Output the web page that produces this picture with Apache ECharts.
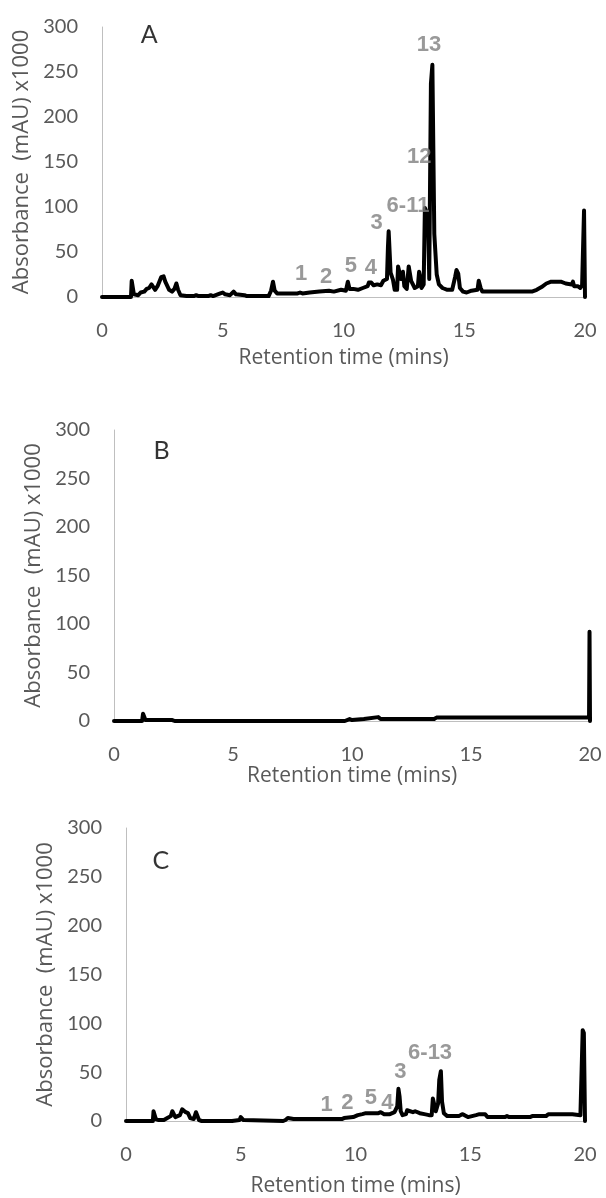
<!DOCTYPE html>
<html>
<head>
<meta charset="utf-8">
<script src="https://cdn.jsdelivr.net/npm/echarts@6/dist/echarts.min.js"></script>
<style>
  html, body { margin: 0; padding: 0; background: #fff; }
  #chart { width: 606px; height: 1198px; }
</style>
</head>
<body>
<div id="chart"></div>
<script>
// chromatogram A (sample)
const timeA = [0, 1.2, 1.23, 1.28, 1.32, 1.5, 1.6, 1.75, 1.85, 1.95, 2.05, 2.12, 2.2, 2.3, 2.45, 2.55, 2.62, 2.7, 2.78, 2.9,
  3.0, 3.08, 3.15, 3.25, 3.5, 3.8, 3.9, 4.0, 4.4, 4.5, 4.6, 4.9, 5.0, 5.1, 5.3, 5.45, 5.55, 5.9, 6.0, 6.9,
  7.0, 7.08, 7.15, 7.25, 8.1, 8.2, 8.3, 8.6, 9.0, 9.4, 9.6, 9.9, 10.1, 10.18, 10.25, 10.4, 10.6, 10.8, 11.0, 11.05,
  11.15, 11.25, 11.4, 11.55, 11.65, 11.8, 11.84, 11.87, 11.92, 11.95, 12.05, 12.12, 12.22, 12.26, 12.33, 12.38, 12.46, 12.52, 12.62, 12.7,
  12.76, 12.8, 12.88, 12.95, 13.08, 13.13, 13.18, 13.23, 13.32, 13.37, 13.42, 13.5, 13.55, 13.62, 13.68, 13.73, 13.76, 13.82, 13.86, 13.95,
  14.1, 14.3, 14.5, 14.62, 14.68, 14.75, 14.82, 14.95, 15.1, 15.3, 15.55, 15.6, 15.68, 15.75, 17.8, 18.0, 18.2, 18.4, 18.6, 19.0,
  19.2, 19.45, 19.5, 19.55, 19.7, 19.8, 19.88, 19.94, 19.96, 19.98, 20];
const absA = [0, 0, 18, 18, 3, 2, 5, 6, 9, 10, 14, 16, 8, 12, 22, 23, 17, 19, 8, 6,
  9, 15, 8, 2, 1, 1, 2, 1, 1, 2, 1, 4, 5, 3, 2, 6, 3, 2, 1, 1,
  7, 17, 7, 4, 4, 5, 4, 5, 6, 7, 6, 8, 7, 17, 9, 9, 8, 10, 12, 16,
  16, 13, 14, 13, 18, 20, 55, 73, 73, 27, 19, 8, 8, 34, 33, 20, 28, 12, 9, 34,
  33, 18, 16, 10, 12, 28, 22, 10, 14, 99, 97, 90, 20, 237, 258, 258, 70, 68, 25, 14,
  10, 8, 8, 22, 30, 26, 10, 6, 5, 7, 8, 18, 10, 6, 6, 8, 11, 15, 17, 17,
  15, 14, 17, 12, 12, 10, 13, 13, 96, 96, 0];

// chromatogram B (blank)
const timeB = [0, 1.18, 1.22, 1.27, 1.32, 1.6, 1.65, 1.72, 2.0, 2.07, 2.15, 2.45, 2.5, 2.55, 9.7, 9.75, 9.9, 10.0, 10.5, 10.55,
  11.1, 11.2, 12.4, 12.48, 12.55, 13.45, 13.55, 19.96, 19.98, 20];
const absB = [0, 0, 7.5, 7, 1, 1, 3, 1, 1, 3, 1, 1, 2, 0, 0, 1.5, 2, 1, 2, 4,
  4, 2, 2, 3, 2, 2, 3.5, 3.5, 92, 0];

// chromatogram C
const timeC = [0, 1.17, 1.2, 1.25, 1.3, 1.4, 1.65, 1.8, 1.95, 2.02, 2.08, 2.15, 2.25, 2.35, 2.45, 2.52, 2.6, 2.7, 2.8, 2.95,
  3.05, 3.12, 3.18, 3.3, 4.5, 4.55, 4.62, 4.95, 5.0, 5.06, 5.12, 5.2, 6.85, 6.95, 7.05, 7.3, 9.4, 9.5, 9.9, 10.1,
  10.3, 10.45, 11.0, 11.1, 11.25, 11.5, 11.7, 11.82, 11.87, 11.92, 11.97, 12.05, 12.2, 12.25, 12.3, 12.5, 12.6, 12.8, 13.0, 13.2,
  13.32, 13.37, 13.45, 13.5, 13.6, 13.65, 13.72, 13.77, 13.85, 14.0, 14.5, 14.65, 14.75, 14.9, 15.25, 15.4, 15.65, 15.75, 16.5, 16.6,
  16.7, 17.6, 17.7, 18.3, 18.4, 19.3, 19.38, 19.45, 19.8, 19.87, 19.9, 19.95, 19.98, 20];
const absC = [0, 0, 10, 11, 2, 1, 1, 3, 5, 10, 8, 4, 5, 6, 12, 12, 9, 8, 3, 2,
  9, 9, 1, 0, 0, 2, 0, 1, 4, 4, 1, 0, 0, 1, 3, 2, 2, 3, 4, 6,
  7, 8, 8, 9, 7, 7, 9, 15, 33, 25, 10, 6, 7, 11, 9, 9, 10, 8, 7, 6,
  6, 23, 24, 10, 18, 42, 51, 20, 8, 5, 5, 7, 6, 4, 6, 7, 7, 4, 4, 5,
  4, 4, 5, 5, 7, 7, 8, 7, 6, 5, 93, 90, 90, 0];

// peak labels: [time, absorbance, text]
const peaksA = [[8.24, 26, '1'], [9.28, 22, '2'], [10.3, 34, '5'], [11.13, 32, '4'], [11.37, 82, '3'],
  [12.67, 101, '6-11'], [13.14, 156, '12'], [13.54, 280, '13']];
const peaksC = [[8.74, 16, '1'], [9.65, 18, '2'], [10.67, 24, '5'], [11.39, 19, '4'], [11.95, 50, '3'], [13.25, 70, '6-13']];
const panelTags = [[1.95, 291, 'A'], [2.0, 278, 'B'], [1.52, 266, 'C']];

const xTicks = { min: 0, max: 20, interval: 5 };
const yTicks = { min: 0, max: 300, interval: 50 };

const grey = '#595959';
const font = 'Lato';
const nameFont = 'Open Sans';

function zip(t, v) {
  return t.map((x, i) => [x, v[i]]);
}

const grids = [
  { left: 102, top: 27, width: 483, height: 270 },
  { left: 114, top: 430, width: 476, height: 291 },
  { left: 126, top: 828, width: 459, height: 293 }
];
const xNameGap = [51, 41, 55];
const yNameGap = [68, 66, 69];

const chart = echarts.init(document.getElementById('chart'));

const xAxis = grids.map((g, i) => ({
  gridIndex: i,
  type: 'value',
  min: xTicks.min,
  max: xTicks.max,
  interval: xTicks.interval,
  name: 'Retention time (mins)',
  nameLocation: 'middle',
  nameGap: xNameGap[i],
  nameTextStyle: { color: grey, fontFamily: nameFont, fontSize: 21 },
  axisLine: { lineStyle: { color: '#bfbfbf', width: 1 } },
  axisTick: { show: false },
  splitLine: { show: false },
  axisLabel: { color: grey, fontFamily: font, fontSize: 20, margin: 24 }
}));

const yAxis = grids.map((g, i) => ({
  gridIndex: i,
  type: 'value',
  min: yTicks.min,
  max: yTicks.max,
  interval: yTicks.interval,
  name: 'Absorbance  (mAU) x1000',
  nameLocation: 'middle',
  nameGap: yNameGap[i],
  nameTextStyle: { color: grey, fontFamily: nameFont, fontSize: 22 },
  axisLine: { show: true, lineStyle: { color: '#bfbfbf', width: 1 } },
  axisTick: { show: false },
  splitLine: { show: false },
  axisLabel: { color: grey, fontFamily: font, fontSize: 20, margin: 24 }
}));

function trace(i, t, v) {
  return {
    type: 'line',
    xAxisIndex: i,
    yAxisIndex: i,
    data: zip(t, v),
    showSymbol: false,
    symbol: 'none',
    lineStyle: { color: '#000', width: 4, join: 'round', cap: 'round' },
    z: 2
  };
}

function labels(i, list, style) {
  return {
    type: 'scatter',
    xAxisIndex: i,
    yAxisIndex: i,
    data: list.map(p => ({ value: [p[0], p[1]], name: p[2] })),
    symbolSize: 0,
    z: 5,
    label: Object.assign({ show: true, position: 'inside', formatter: '{b}' }, style)
  };
}

const peakStyle = { color: '#7f7f7f', fontFamily: 'Liberation Sans', fontWeight: 'bold', fontSize: 22 };
const tagStyle = { color: '#000', fontFamily: font, fontSize: 25 };

chart.setOption({
  animation: false,
  backgroundColor: '#fff',
  grid: grids,
  xAxis: xAxis,
  yAxis: yAxis,
  series: [
    trace(0, timeA, absA),
    trace(1, timeB, absB),
    trace(2, timeC, absC),
    labels(0, peaksA, peakStyle),
    labels(2, peaksC, peakStyle),
    labels(0, [panelTags[0]], tagStyle),
    labels(1, [panelTags[1]], tagStyle),
    labels(2, [panelTags[2]], tagStyle)
  ]
});
</script>
</body>
</html>
